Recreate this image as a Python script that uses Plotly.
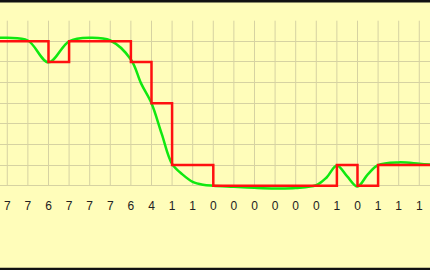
import plotly.graph_objects as go

# Step series (index positions; the visible values are also the tick labels)
step_positions = list(range(-1, 22))
step_values = [7, 7, 7, 6, 7, 7, 7, 6, 4, 1, 1, 0, 0, 0, 0, 0, 0, 1, 0, 1, 1, 1, 1]

# Smoothed series
smooth_positions = [-1, 0, 1, 2, 3, 4, 5, 6, 6.5, 7, 7.5, 8, 8.5, 9, 9.5, 10,
                    11, 12, 13, 14, 15, 15.5, 16, 16.5, 17, 17.5, 18, 19, 20, 21]
smooth_values = [7.15, 7.17, 7.04, 5.98, 7.0, 7.17, 7.04, 6.12, 4.95, 4.0, 2.5, 1.06, 0.55, 0.19, 0.05, 0.0,
                 -0.05, -0.1, -0.13, -0.11, 0.03, 0.4, 0.98, 0.45, -0.04, 0.55, 1.0, 1.13, 1.07, 0.98]

tick_positions = list(range(0, 21))
tick_labels = ["7", "7", "6", "7", "7", "7", "6", "4", "1", "1", "0",
               "0", "0", "0", "0", "0", "1", "0", "1", "1", "1"]
grid_levels = list(range(0, 9))

BG = "#FFFDBA"
GRID = "#D6D2A2"

fig = go.Figure()
fig.add_trace(go.Scatter(
    x=smooth_positions, y=smooth_values, mode="lines",
    line=dict(color="#10E810", width=2.5, shape="spline", smoothing=1.0),
    hoverinfo="skip", showlegend=False))
fig.add_trace(go.Scatter(
    x=step_positions, y=step_values, mode="lines",
    line=dict(color="#FF1010", width=2.5, shape="hv"),
    hoverinfo="skip", showlegend=False))

shapes = []
for t in tick_positions:
    shapes.append(dict(type="line", xref="x", yref="y", x0=t, x1=t,
                       y0=grid_levels[0], y1=grid_levels[-1],
                       line=dict(color=GRID, width=1), layer="below"))
# dark bands at the very top and bottom of the picture
shapes.append(dict(type="rect", xref="paper", yref="paper", x0=-0.01, x1=1.01,
                   y0=1.102, y1=1.2, line=dict(width=0), fillcolor="#111111"))
shapes.append(dict(type="rect", xref="paper", yref="paper", x0=-0.01, x1=1.01,
                   y0=-0.5, y1=-0.441, line=dict(width=0), fillcolor="#111111"))
fig.update_layout(shapes=shapes)

fig.update_layout(
    width=430, height=270,
    margin=dict(l=0, r=0, t=20, b=78, pad=0),
    paper_bgcolor=BG, plot_bgcolor=BG,
    xaxis=dict(range=[-0.354, 20.52], showgrid=False, zeroline=False,
               tickmode="array", tickvals=tick_positions, ticktext=tick_labels,
               ticks="outside", ticklen=3, tickcolor="rgba(0,0,0,0)",
               tickfont=dict(family="Liberation Sans, Arial", size=12, color="#222222"),
               showline=False, fixedrange=True),
    yaxis=dict(range=[-0.305, 8.034], tickmode="array", tickvals=grid_levels,
               showticklabels=False, showgrid=True, gridcolor=GRID, gridwidth=1,
               zeroline=False, showline=False, fixedrange=True),
)
fig.write_html("out.html")
